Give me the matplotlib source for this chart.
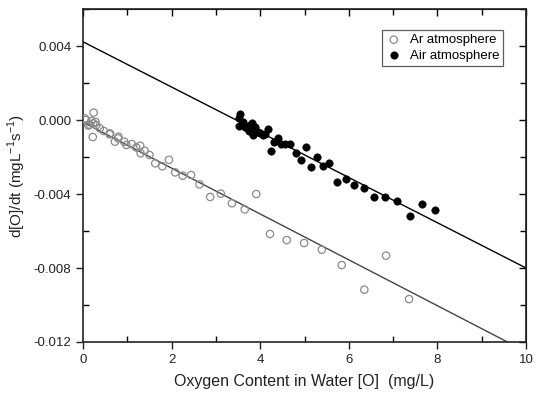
import matplotlib
matplotlib.use("Agg")
import matplotlib.pyplot as plt
import numpy as np
from matplotlib.ticker import MultipleLocator, FixedLocator

plt.rcParams['font.family'] = ['Liberation Sans', 'DejaVu Sans']

# Ar atmosphere (open circles)
ar_x = [0.04, 0.07, 0.19, 0.23, 0.24, 0.22, 0.30, 0.38, 0.47, 0.61, 0.60, 0.72, 0.79,
        0.80, 0.93, 0.98, 1.10, 1.20, 1.29, 1.39, 1.30, 1.50, 1.63, 1.79, 1.94, 2.08,
        2.25, 2.44, 2.63, 2.87, 3.11, 3.36, 3.65, 3.91, 4.22, 4.60, 4.99, 5.39, 5.84,
        6.35, 6.84, 7.36, 0.12, 0.28, 0.15]
ar_y = [0.00009, 0.0, -0.00005, -0.00018, 0.00040, -0.00092, -0.00027, -0.00045, -0.00059,
        -0.00072, -0.00077, -0.00117, -0.00099, -0.00090, -0.00117, -0.00135, -0.00130,
        -0.00148, -0.00139, -0.00166, -0.00180, -0.00189, -0.00234, -0.00250, -0.00215,
        -0.00283, -0.00301, -0.00297, -0.00348, -0.00416, -0.00398, -0.00450, -0.00483,
        -0.00400, -0.00616, -0.00649, -0.00665, -0.00701, -0.00784, -0.00917, -0.00733,
        -0.00968, -0.00030, -0.00010, -0.00025]

# Air atmosphere (filled circles)
air_x = [3.54, 3.53, 3.51, 3.62, 3.66, 3.77, 3.81, 3.84, 3.84, 3.96, 4.06, 4.18, 4.11,
         3.58, 3.70, 3.88, 4.00, 3.74,
         4.30, 4.39, 4.24, 4.46, 4.56, 4.67, 4.81, 4.91, 5.03, 5.15, 5.29, 5.42, 5.56,
         5.73, 5.93, 6.12, 6.34, 6.57, 6.82, 7.08, 7.37, 7.66, 7.95]
air_y = [0.00032, 0.00009, -0.00032, -0.00009, -0.00036, -0.00027, -0.00018, -0.00054,
         -0.00081, -0.00063, -0.00081, -0.00050, -0.00077,
         -0.00020, -0.00045, -0.00040, -0.00070, -0.00060,
         -0.00117, -0.00099, -0.00168, -0.00131, -0.00131, -0.00131, -0.00180, -0.00216,
         -0.00148, -0.00252, -0.00198, -0.00249, -0.00231, -0.00333, -0.00317, -0.00351,
         -0.00369, -0.00418, -0.00418, -0.00436, -0.00519, -0.00452, -0.00486]

# Fit lines (intercept, slope)
ar_fit = (-0.00012, -0.001240)
air_fit = (0.00423, -0.001223)

fig = plt.figure(figsize=(5.37, 3.94), dpi=100)
ax = fig.add_axes([0.1546, 0.132, 0.825, 0.845])

xx = np.linspace(0, 10, 200)
ax.plot(xx, ar_fit[0] + ar_fit[1] * xx, color='#444444', lw=1.0, zorder=2)
ax.plot(xx, air_fit[0] + air_fit[1] * xx, color='black', lw=1.0, zorder=2)

ax.scatter(ar_x, ar_y, s=28, facecolors='none', edgecolors='#8a8a8a', linewidths=0.9,
           label='Ar atmosphere', zorder=3)
ax.scatter(air_x, air_y, s=28, facecolors='black', edgecolors='black', linewidths=0.5,
           label='Air atmosphere', zorder=3)

ax.set_xlim(0, 10)
ax.set_ylim(-0.012, 0.006)
ax.xaxis.set_major_locator(FixedLocator([0, 2, 4, 6, 8, 10]))
ax.xaxis.set_minor_locator(MultipleLocator(1))
ax.yaxis.set_major_locator(FixedLocator([-0.012, -0.008, -0.004, 0.0, 0.004]))
ax.yaxis.set_minor_locator(MultipleLocator(0.002))
ax.set_yticklabels(['-0.012', '-0.008', '-0.004', '0.000', '0.004'])
ax.set_xticklabels(['0', '2', '4', '6', '8', '10'])

ax.tick_params(which='major', direction='out', length=5, width=1, labelsize=9.5,
               colors='#222222')
ax.tick_params(which='minor', direction='in', length=4, width=1)

for side in ['top', 'right', 'bottom', 'left']:
    ax.spines[side].set_linewidth(1.2)
    ax.spines[side].set_color('#222222')

secx = ax.secondary_xaxis('top')
secx.xaxis.set_major_locator(FixedLocator([0, 2, 4, 6, 8, 10]))
secx.xaxis.set_minor_locator(MultipleLocator(1))
secx.tick_params(which='both', direction='in', labeltop=False, length=5, width=1)
secx.tick_params(which='minor', length=4)
secy = ax.secondary_yaxis('right')
secy.yaxis.set_major_locator(FixedLocator([-0.012, -0.008, -0.004, 0.0, 0.004]))
secy.yaxis.set_minor_locator(MultipleLocator(0.002))
secy.tick_params(which='both', direction='in', labelright=False, length=5, width=1)
secy.tick_params(which='minor', length=4)

ax.set_xlabel('Oxygen Content in Water [O]  (mg/L)', fontsize=11.5, color='#222222', labelpad=6)
ax.set_ylabel(r'd[O]/dt (mgL$^{\mathregular{-1}}$s$^{\mathregular{-1}}$)', fontsize=11,
              color='#222222', labelpad=4)

leg = ax.legend(loc='upper right', fontsize=9.5, frameon=True, fancybox=False,
                edgecolor='#333333', handletextpad=0.6, borderpad=0.3,
                labelspacing=0.25, handlelength=1.2, bbox_to_anchor=(0.963, 0.957))
leg.get_frame().set_linewidth(0.9)

fig.savefig('out.png', dpi=100)
